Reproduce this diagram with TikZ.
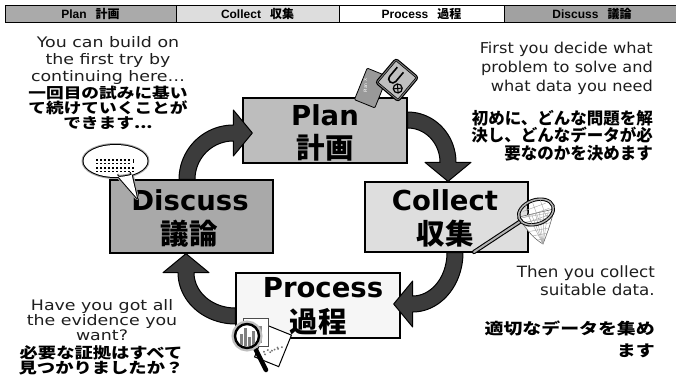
\documentclass[tikz,border=0pt]{standalone}
\usepackage{fontspec}
\setmainfont{DejaVu Sans}
\newfontfamily\boxfont{DejaVu Sans}
\newfontfamily\barfont{Liberation Sans}
\newfontfamily\jp{Noto Sans CJK JP}
\newfontfamily\jpwide{Noto Sans CJK JP}[FakeStretch=1.22]
\newfontfamily\enwide{DejaVu Sans}[FakeStretch=1.2]
\newfontfamily\en{DejaVu Sans}[FakeStretch=1.08]
\usetikzlibrary{calc,shadows}

\definecolor{planfill}{HTML}{BDBDBD}
\definecolor{collectfill}{HTML}{DEDEDE}
\definecolor{processfill}{HTML}{F6F6F6}
\definecolor{discussfill}{HTML}{A9A9A9}
\definecolor{arrowgray}{HTML}{3C3C3C}
\definecolor{textgray}{HTML}{1E1E1E}

\tikzset{
  barcell/.style={draw=black, line width=0.9pt, minimum height=17pt, inner sep=0pt,
    font=\barfont\bfseries\fontsize{12}{12}\selectfont},
  stagebox/.style={draw=black, line width=1.3pt, inner sep=0pt,
    drop shadow={shadow xshift=1.4pt, shadow yshift=-1.4pt, fill=black!40, opacity=1}},
  stageen/.style={inner sep=0pt, font=\boxfont\bfseries\fontsize{27.5}{30}\selectfont},
  stagejp/.style={inner sep=0pt, font=\jp\bfseries\fontsize{28.5}{30}\selectfont},
  cyclearrowstyle/.style={fill=arrowgray, draw=black, line width=1pt, line join=round},
  note/.style={inner sep=0pt, text=textgray},
  notejp/.style={inner sep=0pt, text=black},
}

% Quarter-circle block arrow: #1 start point, #2 centre of the head base,
% #3/#4 start and end angles (screen angles, clockwise).
% Plot coordinates are given in canvas points, with the y axis pointing up.
\newcommand\cyclearrow[4]{%
  \filldraw[cyclearrowstyle] let \p1=#1, \p2=#2,
    \n1={\x1*abs(sin(#3))+\x2*abs(sin(#4))},
    \n2={-(\y1*abs(cos(#3))+\y2*abs(cos(#4)))},
    \n3={abs(\x1-\x2)}, \n4={abs(\y1-\y2)} in
    plot[variable=\t, domain=#3:#4, samples=25]
      ({(\n1+(\n3+8)*cos(\t))*1pt},{-(\n2+(\n4+8)*sin(\t))*1pt})
    -- ({(\n1+(\n3+23)*cos(#4))*1pt},{-(\n2+(\n4+23)*sin(#4))*1pt})
    -- ({(\n1+\n3*cos(#4)+19*cos(#4+90))*1pt},{-(\n2+\n4*sin(#4)+19*sin(#4+90))*1pt})
    -- ({(\n1+(\n3-23)*cos(#4))*1pt},{-(\n2+(\n4-23)*sin(#4))*1pt})
    -- plot[variable=\t, domain=#4:#3, samples=25]
      ({(\n1+(\n3-8)*cos(\t))*1pt},{-(\n2+(\n4-8)*sin(\t))*1pt})
    -- cycle;}

\begin{document}
\begin{tikzpicture}[x=1pt,y=-1pt]
\useasboundingbox (0,0) rectangle (676,380);
\fill[white] (0,0) rectangle (676,380);

% ---- header bar ----
\node[barcell, fill=planfill!90!black, minimum width=171pt] (barplan) at (90.5,13.5)
  {Plan\hspace{9pt}{\jp\bfseries 計画}};
\node[barcell, fill=collectfill!103, minimum width=163pt] (barcollect) at (257.5,13.5)
  {Collect\hspace{9pt}{\jp\bfseries 収集}};
\node[barcell, fill=white, minimum width=165pt] (barprocess) at (421.5,13.5)
  {Process\hspace{9pt}{\jp\bfseries 過程}};
\node[barcell, fill=discussfill!95!black, minimum width=176pt] (bardiscuss) at (592,13.5)
  {Discuss\hspace{9pt}{\jp\bfseries 議論}};

% ---- the four stage boxes ----
\node[stagebox, fill=planfill, minimum width=164pt, minimum height=65pt] (plan) at (325,130.5) {};
\node[stagebox, fill=collectfill, minimum width=163pt, minimum height=70pt] (collect) at (446.5,217) {};
\node[stagebox, fill=processfill, minimum width=164pt, minimum height=65pt] (process) at (318,305.5) {};
\node[stagebox, fill=discussfill, minimum width=163pt, minimum height=73pt] (discuss) at (191.5,216.5) {};

\node[stageen, anchor=base] (planen) at (325,125) {Plan};
\node[stagejp] (planjp) at (325,147.5) {計画};
\node[stageen, anchor=base] (collecten) at (445,210) {Collect};
\node[stagejp] (collectjp) at (445,233.5) {収集};
\node[stageen, anchor=base] (processen) at (323,297) {Process};
\node[stagejp] (processjp) at (318,321.5) {過程};
\node[stageen, anchor=base] (discussen) at (190,210) {Discuss};
\node[stagejp] (discussjp) at (189,234) {議論};

% ---- cycle arrows ----
\cyclearrow{($(discuss.north)+(-4.5,0)$)}{($(plan.west)+(-9,2.5)$)}{180}{270}
\cyclearrow{($(plan.east)+(0,-10.5)$)}{($(collect.north)+(1.5,-19)$)}{270}{360}
\cyclearrow{($(collect.south)+(8.5,0)$)}{($(process.east)+(12,-1.5)$)}{0}{90}
\cyclearrow{($(process.west)+(0,10.5)$)}{($(discuss.south)+(-5.5,19)$)}{90}{180}

% ---- speech bubble on the Discuss box ----
\coordinate (bubble) at (115.5,161);
\coordinate (bubbletip) at (137,198);
\draw[black!35, line width=4pt, line join=round]
  (bubble) ellipse [x radius=32, y radius=16]
  (117,175) -- (bubbletip) -- (131,172);
\draw[black, line width=2pt, line join=round]
  (bubble) ellipse [x radius=32, y radius=16]
  (117,175) -- (bubbletip) -- (131,172);
\fill[white] (bubble) ellipse [x radius=32, y radius=16]
  (115,172) -- (117,175) -- (bubbletip) -- (131,172) -- (128,170) -- cycle;
\foreach \yy in {159,162.5} \foreach \xx in {0,...,8}
  \fill[black] ({96+4*\xx},\yy) rectangle ++(1.8,1.8);
\fill[black] (132.5,159) rectangle ++(1.2,4.3);
\foreach \yy in {167,170.5} \foreach \xx in {0,...,9}
  \fill[black] ({96+4*\xx},\yy) rectangle ++(1.8,1.8);

% ---- plan card and notebook on the Plan box ----
\begin{scope}[shift={(371,88)}, rotate=-22]
  \filldraw[fill=black!40, draw=black, line width=0.8pt, rounded corners=1pt] (-11,-17) rectangle (11,17);
  \node[rotate=90, text=white, inner sep=0pt, font=\fontsize{4.5}{5}\selectfont] (plancardtext) at (-6,0) {Plan X};
\end{scope}
\begin{scope}[shift={(397,80)}, rotate=-40]
  \filldraw[fill=black!50, draw=black, line width=1pt, rounded corners=3pt] (-15,-16) rectangle (15,16);
  \filldraw[fill=black!25, draw=black, line width=0.6pt] (-13,-14) rectangle (13,14);
  \draw[black, line width=1.6pt] (-8,-10) -- (-8,2) arc[start angle=180, end angle=0, radius=4] -- (0,-10);
  \draw[black, line width=1.2pt] (6,6) circle[radius=4.5];
  \draw[black, line width=1pt] (3,3) -- (9,9) (3,9) -- (9,3);
\end{scope}

% ---- butterfly net on the Collect box ----
\coordinate (hoop) at (536,212);
\filldraw[fill=white, draw=black!60, line width=0.6pt]
  (519,217) .. controls (527,232) and (536,240) .. (543,244)
  .. controls (546,236) and (551,224) .. (554,209) -- cycle;
\begin{scope}
  \clip (519,217) .. controls (527,232) and (536,240) .. (543,244)
  .. controls (546,236) and (551,224) .. (554,209) -- cycle;
  \foreach \k in {0,...,5} \draw[black!35, line width=0.4pt] ({520+6*\k},200) -- (543,244);
  \foreach \k in {0,...,6} \draw[black!35, line width=0.4pt] (515,{214+5*\k}) -- (560,{206+5*\k});
\end{scope}
\draw[black, line width=4.2pt, line cap=round] (474,252) -- (521,221);
\draw[black!30, line width=2pt, line cap=round] (474,252) -- (521,221);
\draw[black, line width=3.4pt, rotate around={20:(hoop)}] (hoop) ellipse [x radius=18, y radius=12];
\draw[black!30, line width=1.5pt, rotate around={20:(hoop)}] (hoop) ellipse [x radius=18, y radius=12];
\draw[black!35, line width=0.4pt, rotate around={20:(hoop)}]
  (524,207) -- (548,207) (522,213) -- (550,213) (526,219) -- (546,219)
  (528,201) -- (528,222) (536,200) -- (536,224) (544,201) -- (544,222);

% ---- chart papers and magnifier on the Process box ----
\begin{scope}[shift={(273,346)}, rotate=-22]
  \filldraw[fill=white, draw=black, line width=1pt] (-13,-17) rectangle (13,17);
  \foreach \px/\py in {-7/8,-4/5,-1/6,2/2,5/0,8/-3,-5/10,0/4,4/-1}
    \fill[black!55] (\px,\py) rectangle ++(1.5,1.5);
\end{scope}
\filldraw[fill=white, draw=black!70, line width=1pt] (243,318) rectangle (268,346);
\foreach \bx/\bh in {247/14,251/20,255/11,259/17}
  \fill[black!45] (\bx,343) rectangle ++(3,-\bh);
\draw[black, line width=4.5pt, line cap=round] (254,346) -- (266,370);
\draw[black!25, line width=6pt] (247,336) circle[radius=12.5];
\filldraw[fill=white, draw=black, line width=2.4pt] (247,336) circle[radius=12];
\begin{scope}
  \clip (247,336) circle[radius=10.5];
  \foreach \bx/\bh in {240/12,244/18,248/9,252/15}
    \fill[black!50] (\bx,346) rectangle ++(3,-\bh);
\end{scope}

% ---- explanatory notes ----
\node[note, anchor=north, align=center, font=\enwide\fontsize{14.5}{17}\selectfont] (notebuild) at (108,36)
  {You can build on\\the first try by\\continuing here…};
\node[notejp, anchor=north, align=center, font=\jpwide\bfseries\fontsize{14.5}{15}\selectfont] (notebuildjp) at (108,86)
  {一回目の試みに基い\\て続けていくことが\\できます...};

\node[note, anchor=north east, align=right, font=\en\fontsize{15}{19}\selectfont] (notedecide) at (653,42)
  {First you decide what\\problem to solve and\\what data you need};
\node[notejp, anchor=north east, align=right, font=\jp\bfseries\fontsize{16.5}{17.5}\selectfont] (notedecidejp) at (653,110)
  {初めに、どんな問題を解\\決し、どんなデータが必\\要なのかを決めます};

\node[note, anchor=north east, align=right, font=\en\fontsize{15.5}{18}\selectfont] (notecollect) at (655,266)
  {Then you collect\\suitable data.};
\node[notejp, anchor=north east, align=right, font=\jpwide\bfseries\fontsize{15.5}{22}\selectfont] (notecollectjp) at (655,321)
  {適切なデータを集め\\ます};

\node[note, anchor=north, align=center, font=\enwide\fontsize{14.5}{13.5}\selectfont] (noteevidence) at (102,299)
  {Have you got all\\the evidence you\\want?};
\node[notejp, anchor=north, align=center, font=\jpwide\bfseries\fontsize{15}{15}\selectfont] (noteevidencejp) at (101,345)
  {必要な証拠はすべて\\見つかりましたか？};
\end{tikzpicture}
\end{document}
